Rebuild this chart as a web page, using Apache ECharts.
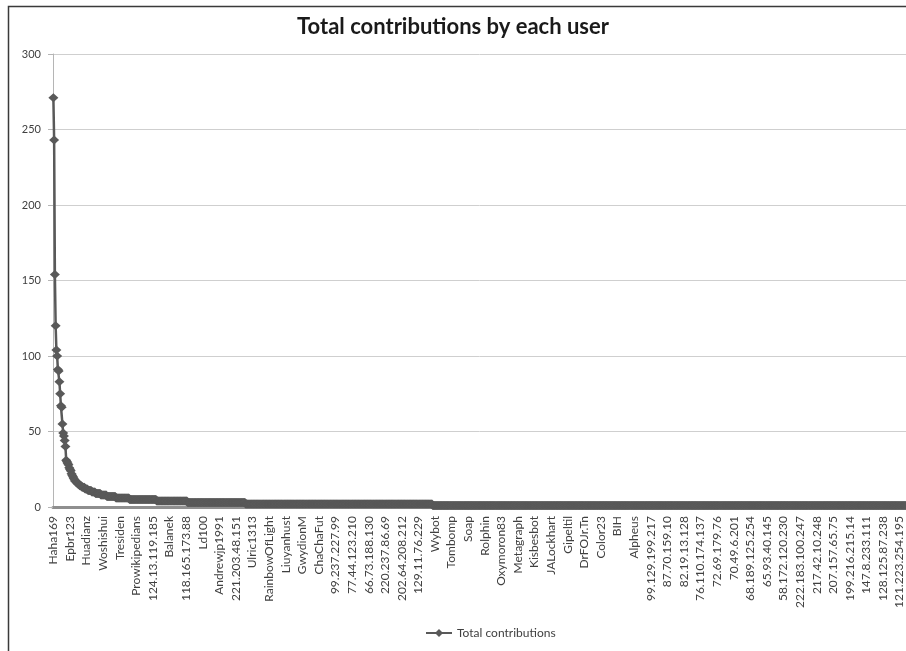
<!DOCTYPE html>
<html>
<head>
<meta charset="utf-8">
<script src="https://cdn.jsdelivr.net/npm/echarts@6/dist/echarts.min.js"></script>
<style>
html,body{margin:0;padding:0;background:#fff;}
#chart{width:906px;height:651px;}
</style>
</head>
<body>
<div id="chart"></div>
<script>
// Users whose names are printed on the category axis (every 22nd user, sorted by contributions)
const labelledUsers = [
  'Haha169','Epbr123','Huadianz','Woshishui','Tresiden','Prowikipedians','124.13.119.185','Balanek',
  '118.165.173.88','Ld100','Andrewjp1991','221.203.48.151','Ulric1313','RainbowOfLight','Liuyanhust',
  'GwydionM','ChaChaFut','99.237.227.99','77.44.123.210','66.73.188.130','220.237.86.69','202.64.208.212',
  '129.11.76.229','Wybot','Tombomp','Soap','Rolphin','Oxymoron83','Metagraph','Kisbesbot','JALockhart',
  'Gipeltil','DrFOJr.Tn','Color23','BIH','Alpheus','99.129.199.217','87.70.159.10','82.19.13.128',
  '76.110.174.137','72.69.179.76','70.49.6.201','68.189.125.254','65.93.40.145','58.172.120.230',
  '222.183.100.247','217.42.10.248','207.157.65.75','199.216.215.14','147.8.233.111','128.125.87.238',
  '121.223.254.195'
];
const labelEvery = 22;

// Top contributors (individual values)
const topContributions = [271,243,154,120,104,100,91,90,83,75,67,66,55,49,47,44,40,31,30,29,28,26,25,24,22,21,20,19,18,17,17,16,16,15,15,14,14,14];
// Long tail: number of users having each contribution count
const tailValues = [13,12,11,10,9,8,7,6,5,4,3,2,1];
const tailUserCounts = [4,4,5,5,7,8,12,18,36,41,77,248,628];

const yTicks = {min:0, max:300, interval:50};

const contributions = topContributions.slice();
tailValues.forEach((v, k) => { for (let j = 0; j < tailUserCounts[k]; j++) contributions.push(v); });
const users = contributions.map((_, i) => (i % labelEvery === 0 && labelledUsers[i / labelEvery]) ? labelledUsers[i / labelEvery] : ('user ' + (i + 1)));

const chart = echarts.init(document.getElementById('chart'), null, {renderer:'canvas'});
const FONT = 'Lato';
chart.setOption({
  animation:false,
  backgroundColor:'#ffffff',
  title:{
    text:'Total contributions by each user',
    left:'center', top:11,
    textStyle:{fontFamily:FONT, fontWeight:'bold', fontSize:22, color:'#1a1a1a'}
  },
  legend:{
    left:420, top:622,
    itemWidth:26, itemHeight:10, itemGap:4,
    textStyle:{fontFamily:FONT, fontSize:12, color:'#404040'},
    data:['Total contributions']
  },
  grid:{left:53, right:0, top:54, bottom:144, containLabel:false},
  xAxis:{
    type:'category',
    data:users,
    boundaryGap:true,
    axisLine:{lineStyle:{color:'#8f8f8f', width:3}},
    axisTick:{show:false},
    axisLabel:{interval:labelEvery-1, rotate:90, margin:9, fontFamily:FONT, fontSize:12, color:'#404040'},
    splitLine:{show:false}
  },
  yAxis:{
    type:'value', min:yTicks.min, max:yTicks.max, interval:yTicks.interval,
    axisLine:{show:true, lineStyle:{color:'#b5b5b5', width:1}},
    axisTick:{show:true, length:5, lineStyle:{color:'#b5b5b5'}},
    axisLabel:{margin:12, fontFamily:FONT, fontSize:11, color:'#404040'},
    splitLine:{lineStyle:{color:'#cfcfcf', width:1}}
  },
  series:[{
    name:'Total contributions',
    type:'line',
    data:contributions,
    symbol:'diamond', symbolSize:[10,9],
    showSymbol:true, showAllSymbol:true,
    lineStyle:{color:'#595959', width:2.5},
    itemStyle:{color:'#595959'},
    z:3
  }],
  graphic:[{
    type:'rect', silent:true, z:-1,
    shape:{x:8.5, y:6.5, width:1200, height:1200},
    style:{fill:null, stroke:'#3a3a3a', lineWidth:1.5}
  }]
});
</script>
</body>
</html>
